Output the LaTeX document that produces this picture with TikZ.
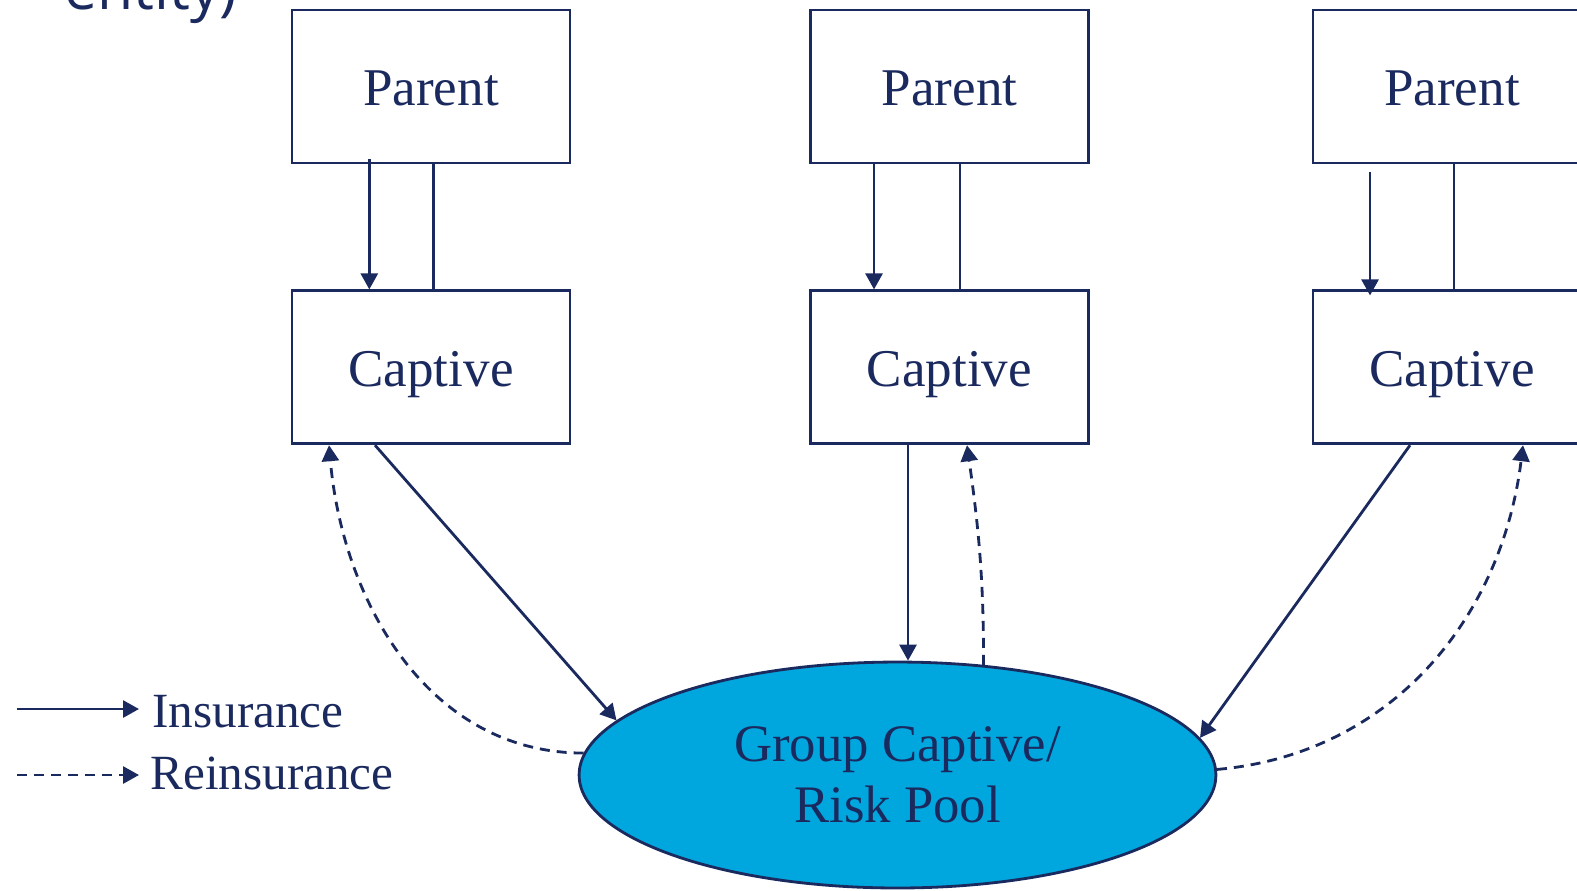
\documentclass[tikz,border=0pt]{standalone}
\usepackage{fontspec}
\setmainfont{Liberation Serif}
\newfontfamily\headfont{Open Sans}
\usepackage{tikz}
\usetikzlibrary{arrows.meta}
\usetikzlibrary{shapes.geometric}
\definecolor{navy}{RGB}{27,42,94}
\definecolor{poolblue}{RGB}{0,166,222}
\begin{document}
\begin{tikzpicture}[x=0.02cm,y=-0.02cm,line width=1.6pt,color=navy,
  box/.style={draw,rectangle,minimum width=5.56cm,minimum height=3.06cm,inner sep=0pt,text height=22pt,text depth=0pt,font=\fontsize{30.2}{36}\selectfont},
  pool/.style={draw,ellipse,fill=poolblue,minimum width=12.74cm,minimum height=4.52cm,inner sep=0pt,align=center,font=\fontsize{30}{35}\selectfont},
  ins/.style={-{Triangle[length=0.32cm,width=0.34cm]}},
  reins/.style={ins,dash pattern=on 0.2cm off 0.14cm},
  legend/.style={inner sep=0pt,anchor=base west,font=\fontsize{28}{34}\selectfont}]%
\useasboundingbox (0,0) rectangle (1577,890);%
\node[anchor=base west,inner sep=0pt,font=\headfont\fontsize{33.5}{38}\selectfont] (ttl) at (63,9) {entity)}; %%
\begin{scope}
\node[box] (par1) at (431,86.5)  {Parent}; %%
\node[box] (par2) at (949.5,86.5)  {Parent}; %%
\node[box] (par3) at (1452,86.5)  {Parent}; %%
\node[box] (cap1) at (431,367.3)  {Captive}; %%
\node[box] (cap2) at (949.5,367.3)  {Captive}; %%
\node[box] (cap3) at (1452,367.3)  {Captive}; %%
\node[pool] (pool) at (897.5,775)  {Group Captive/\\Risk Pool}; %%
\end{scope}
\coordinate (insa) at (17,709);%
\coordinate (insb) at (139,709);%
\coordinate (reia) at (17,775);%
\coordinate (reib) at (139,775);%
\node[legend] (insl) at (151,727) {Insurance};%
\node[legend] (reil) at (149,789) {Reinsurance};%
\draw[ins] (insa)--(insb); %%
\draw[reins] (reia)--(reib); %%
\draw[ins] ([xshift=-1.234cm,yshift=0.1cm]par1.south)--([xshift=-1.234cm]cap1.north); %%
\draw ([xshift=0.054cm]par1.south)--([xshift=0.054cm]cap1.north); %%
\draw[ins] ([xshift=-1.51cm]par2.south)--([xshift=-1.51cm]cap2.north); %%
\draw ([xshift=0.21cm]par2.south)--([xshift=0.21cm]cap2.north); %%
\draw[ins] ([xshift=-1.64cm,yshift=-0.154cm]par3.south)--([xshift=-1.64cm,yshift=-0.12cm]cap3.north); %%
\draw ([xshift=0.04cm]par3.south)--([xshift=0.04cm]cap3.north); %%
\coordinate (mid) at ([xshift=-0.83cm]cap2.south);%
\draw[ins] ([xshift=-1.12cm]cap1.south)--(pool.169.6); %%
\draw[reins] (pool.176) to[out=180,in=-85] ([xshift=-2.04cm]cap1.south); %%
\draw[ins] (mid)--(mid |- pool.north); %%
\draw[reins] (pool.52) to[out=90,in=-82] ([xshift=0.35cm]cap2.south); %%
\draw[ins] ([xshift=-0.84cm]cap3.south)--(pool.7); %%
\draw[reins] (pool.1) to[out=5,in=-97] ([xshift=1.42cm]cap3.south); %%
\end{tikzpicture}
\end{document}
